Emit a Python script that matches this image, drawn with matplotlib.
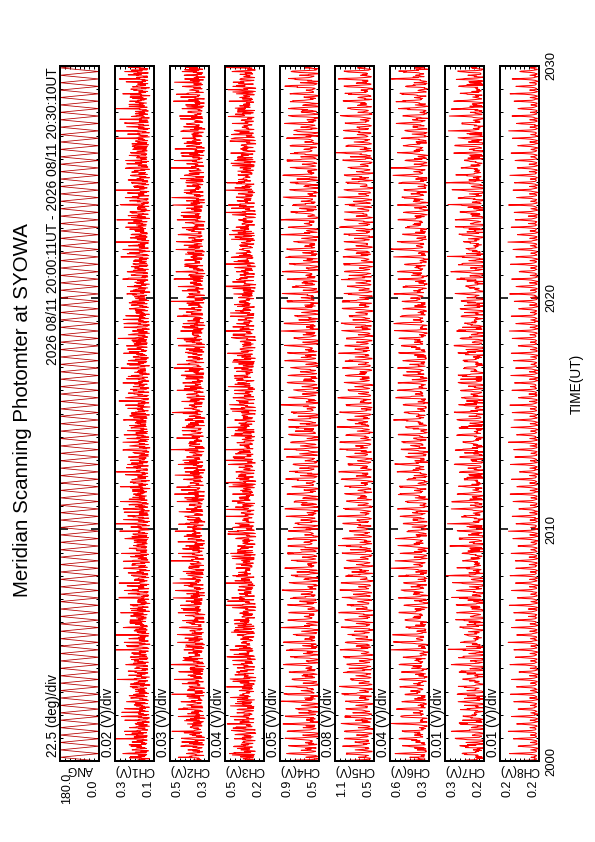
import numpy as np
import matplotlib
matplotlib.use("Agg")
import matplotlib.pyplot as plt
from matplotlib.ticker import FixedLocator, MultipleLocator, NullLocator

plt.rcParams['font.family'] = ['Liberation Sans', 'DejaVu Sans']

# ---------------- text ----------------
TITLE = "Meridian Scanning Photomter at SYOWA"
PERIOD_TEXT = "2026 08/11 20:00:11UT - 2026 08/11 20:30:10UT"
TIME_TITLE = "TIME(UT)"
TIME_TICKS = [0, 10, 20, 30]            # minutes after 20:00 UT
TIME_LABELS = ["2000", "2010", "2020", "2030"]

CHANNELS = ["ANG", "CH1(V)", "CH2(V)", "CH3(V)", "CH4(V)",
            "CH5(V)", "CH6(V)", "CH7(V)", "CH8(V)"]
PER_DIV_TEXT = ["22.5 (deg)/div", "0.02 (V)/div", "0.03 (V)/div", "0.04 (V)/div",
                "0.05 (V)/div", "0.08 (V)/div", "0.04 (V)/div", "0.01 (V)/div",
                "0.01 (V)/div"]
DIV_V = [22.5, 0.02, 0.03, 0.04, 0.05, 0.08, 0.04, 0.01, 0.01]
AX_MIN = [0.0, 0.14, 0.26, 0.18, 0.50, 0.46, 0.28, 0.22, 0.16]
N_DIV = 8

# ---------------- data ----------------
STEP_MIN = 0.02                 # minutes per scan step
N_CYCLES = 94                   # full scan cycles in 30 min
ANG_CYCLE = [0, 22.5, 45, 67.5, 90, 112.5, 135, 157.5, 180,
             157.5, 135, 112.5, 90, 67.5, 45, 22.5]

# channel signals, in divisions above the panel minimum
LEVEL_DIV = [2.3, 2.3, 3.3, 0.5, 0.7, 1.0, 0.7, 0.4]
NOISE_DIV = [1.15, 1.15, 1.3, 0.8, 0.7, 0.8, 1.0, 0.15]
NOISE_STRIDE = [1, 3, 5, 7, 9, 11, 13, 15]
NOISE_OFFSET = [0, 11, 23, 5, 37, 17, 29, 44]

SHAPE_FLAT = [0.4, 0.2, 0.0, -0.2, -0.3, -0.2, 0.0, 0.2, 0.4, 0.2, 0.0, -0.2, -0.3, -0.2, 0.0, 0.2]
SHAPE_BUMP = [0.0, 2.6, 1.7, 0.9, 0.4, 0.2, 0.6, 1.4, 2.6, 1.4, 0.6, 0.2, 0.4, 0.9, 1.7, 2.6]
SHAPE_SOFT = [0.0, 1.8, 1.1, 0.5, 0.2, 0.0, 0.2, 0.7, 1.5, 0.7, 0.2, 0.0, 0.2, 0.5, 1.1, 1.8]
SHAPE_U = [0.0, 2.0, 1.2, 0.5, 0.15, 0.0, 0.15, 0.5, 1.4, 0.5, 0.15, 0.0, 0.15, 0.5, 1.2, 2.0]
SPIKE_TWO = [1.0, 0.45, 0, 0, 0, 0, 0, 0, 0.2, 0.6, 0.25, 0, 0, 0, 0, 0.3]
SPIKE_LOOP = [1.0, 0.55, 0.2, 0, 0, 0, 0, 0, 0, 0, 0, 0, 0, 0, 0.1, 0.35]
SPIKE_THIN = [1.0, 0.3, 0, 0, 0, 0, 0, 0, 0, 0, 0, 0, 0, 0, 0, 0.15]

CH1_PEAKS = [2.6, 3.8, 1.8, 4.4, 2.9, 1.5, 3.4, 2.2, 4.1, 2.0, 3.0, 3.9, 1.6, 3.2, 2.5, 4.5,
             1.9, 2.8, 3.6, 2.1, 3.1, 1.4, 3.7, 2.7, 3.3, 1.9, 4.2, 2.3, 2.9, 1.7, 3.5]
CH2_PEAKS = [3.0, 1.8, 4.0, 2.4, 3.4, 1.6, 2.8, 3.8, 2.0, 3.2, 1.5, 3.6, 2.6, 4.2, 1.9,
             2.9, 3.3, 2.2, 3.9, 1.7, 2.7, 3.5, 2.1, 3.1, 4.0, 1.8, 2.5, 3.7, 2.3]
CH3_PEAKS = [1.8, 2.6, 1.2, 3.0, 2.0, 1.5, 2.8, 1.0, 2.4, 1.7, 3.2, 1.3, 2.2, 2.9,
             1.6, 2.5, 1.1, 3.1, 1.9, 2.3, 1.4, 2.7, 2.0, 1.2, 3.0, 1.8, 2.4]
CH4_PEAKS = [5.0, 5.8, 4.4, 5.4, 6.2, 4.8, 5.6, 4.2, 5.2, 6.0, 4.6, 5.5, 4.9,
             5.9, 4.3, 5.3, 6.1, 4.7, 5.7, 5.1, 4.5, 5.8, 5.0, 6.2, 4.6]
CH5_PEAKS = [4.8, 5.4, 4.2, 5.8, 4.6, 5.1, 3.9, 5.5, 4.4, 5.0, 5.7, 4.1,
             4.9, 5.3, 4.3, 5.6, 4.7, 4.0, 5.2, 4.5, 5.9, 4.2, 5.0]
CH6_PEAKS = [4.6, 5.4, 3.8, 5.0, 4.2, 5.7, 4.0, 4.8, 5.2, 3.6, 4.5, 5.5, 4.1, 4.9, 3.9,
             5.3, 4.4, 5.8, 3.7, 4.7, 5.1, 4.3, 5.6, 4.0, 4.8, 3.8, 5.2, 4.5, 5.0]
CH7_PEAKS = [3.8, 4.6, 3.2, 4.2, 5.0, 3.5, 4.4, 3.0, 4.0, 4.8, 3.4, 4.3, 3.7, 4.9, 3.1, 4.1,
             4.7, 3.6, 4.5, 3.3, 4.0, 5.1, 3.5, 4.4, 3.9, 4.6, 3.2, 4.2, 3.8, 4.8, 3.6]
CH8_PEAKS = [4.6, 5.4, 4.0, 5.0, 5.8, 4.3, 5.2, 3.8, 4.8, 5.6, 4.2, 5.1, 3.6, 5.5,
             4.5, 4.9, 5.9, 4.1, 5.3, 4.4, 4.7, 5.7, 3.9, 5.0, 4.5, 5.4, 4.2]

NOISE = [0.3, -0.8, 0.9, -0.2, 0.6, -1.0, 0.1, 2.2, -0.5, 0.7,
         -0.9, 0.4, -0.3, 1.0, -0.7, 0.2, -0.1, 0.8, -0.6, 1.5,
         -0.4, 0.5, -1.0, 0.0, 0.9, -0.8, 0.3, -0.5, 0.6, -0.2,
         1.1, -0.9, 0.2, -0.6, 0.7, 2.6, -0.3, 0.4, -0.7, 0.1,
         -1.0, 0.8, -0.4, 0.5, 1.3, -0.6, 0.0, -0.8, 0.9, -0.1,
         0.6, -0.5, 1.8]

CH_SHAPE = [SHAPE_FLAT, SHAPE_FLAT, SHAPE_FLAT, SHAPE_BUMP, SHAPE_BUMP,
            SHAPE_SOFT, SHAPE_SOFT, SHAPE_U]
CH_SPIKE = [SPIKE_TWO, SPIKE_TWO, SPIKE_TWO, SPIKE_LOOP, SPIKE_LOOP,
            SPIKE_LOOP, SPIKE_LOOP, SPIKE_THIN]
CH_PEAKS = [CH1_PEAKS, CH2_PEAKS, CH3_PEAKS, CH4_PEAKS, CH5_PEAKS,
            CH6_PEAKS, CH7_PEAKS, CH8_PEAKS]

# ---------------- build series ----------------
n = N_CYCLES * len(ANG_CYCLE)
idx = np.arange(n)
k = idx % len(ANG_CYCLE)
cyc = idx // len(ANG_CYCLE)
t = idx * STEP_MIN
noise_arr = np.array(NOISE)

series = [np.tile(np.array(ANG_CYCLE, dtype=float), N_CYCLES)]
for c in range(8):
    peaks = np.array(CH_PEAKS[c])
    div = (LEVEL_DIV[c] + np.array(CH_SHAPE[c])[k]
           + np.array(CH_SPIKE[c])[k] * peaks[cyc % len(peaks)]
           + NOISE_DIV[c] * noise_arr[(idx * NOISE_STRIDE[c] + NOISE_OFFSET[c]) % len(NOISE)])
    series.append(AX_MIN[c + 1] + div * DIV_V[c + 1])

# ---------------- figure ----------------
W, H = 595, 842
fig = plt.figure(figsize=(W / 72, H / 72), dpi=72)
fig.patch.set_facecolor('white')

LEFT0, STEP, PW = 60, 55, 39
TOP, BOTTOM = 66, 761

for c in range(9):
    left = LEFT0 + STEP * c
    ax = fig.add_axes([left / W, (H - BOTTOM) / H, PW / W, (BOTTOM - TOP) / H])
    lo = AX_MIN[c]
    hi = AX_MIN[c] + N_DIV * DIV_V[c]
    if c == 0:
        ax.plot(series[c], t, color='#b80000', lw=0.8)
    else:
        ax.plot(series[c], t, color='#ff0000', lw=1.0)
    ax.set_xlim(hi, lo)
    ax.set_ylim(0, 30)

    ax.xaxis.set_major_locator(NullLocator())
    ax.xaxis.set_minor_locator(FixedLocator([lo + j * DIV_V[c] for j in range(1, N_DIV)]))
    ax.yaxis.set_major_locator(FixedLocator(TIME_TICKS))
    ax.yaxis.set_minor_locator(MultipleLocator(1))
    ax.tick_params(axis='x', which='minor', direction='in', top=True, bottom=True,
                   length=3, width=1, color='black')
    ax.tick_params(axis='y', which='major', direction='in', left=True, right=True,
                   length=8, width=1.6, labelleft=False, labelright=False, color='black')
    ax.tick_params(axis='y', which='minor', direction='in', left=True, right=True,
                   length=3, width=1, color='black')
    for s in ax.spines.values():
        s.set_linewidth(2)
        s.set_color('black')

    # channel name (upside down, below the panel)
    ax.annotate(CHANNELS[c], xy=(0.5, 0), xycoords='axes fraction', xytext=(0, -2.5),
                textcoords='offset points', rotation=180, ha='center', va='top',
                fontsize=12)
    # range labels
    ax.annotate(f"{hi:.1f}", xy=(0, 0), xycoords='axes fraction', xytext=(1.5, -27),
                textcoords='offset points', rotation=90, ha='left', va='center',
                fontsize=12.5)
    ax.annotate(f"{lo:.1f}", xy=(1, 0), xycoords='axes fraction', xytext=(0.5, -27),
                textcoords='offset points', rotation=90, ha='right', va='center',
                fontsize=12.5)
    # per-division label
    fig.text((left - 7) / W, 1 - 757 / H, PER_DIV_TEXT[c], rotation=90,
             ha='center', va='bottom', fontsize=13.5)

    if c == 8:
        ax.tick_params(axis='y', which='major', labelright=True, labelrotation=90,
                       pad=6, labelsize=13)
        ax.set_yticklabels(TIME_LABELS)
        for lab in ax.get_yticklabels():
            lab.set_va('center')

fig.text(23 / W, 1 - 410 / H, TITLE, rotation=90, ha='center', va='center', fontsize=20.5)
fig.text(53 / W, 1 - 67 / H, PERIOD_TEXT, rotation=90, ha='center', va='top', fontsize=13.8)
fig.text(577 / W, 1 - 414 / H, TIME_TITLE, rotation=90, ha='center', va='bottom', fontsize=13.8)

fig.savefig("out.png", dpi=72, facecolor='white')
